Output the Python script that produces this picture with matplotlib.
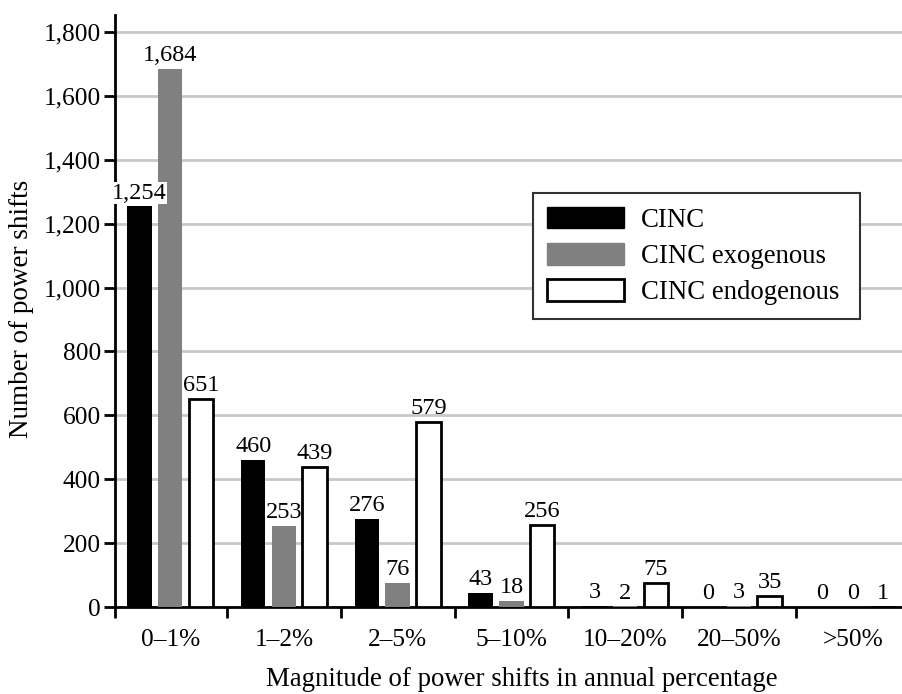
import matplotlib
matplotlib.use("Agg")
import matplotlib.pyplot as plt
from matplotlib.ticker import FuncFormatter, FixedLocator
from matplotlib.patches import Patch

categories = ["0\u20131%", "1\u20132%", "2\u20135%", "5\u201310%", "10\u201320%", "20\u201350%", ">50%"]
cinc = [1254, 460, 276, 43, 3, 0, 0]
cinc_exo = [1684, 253, 76, 18, 2, 3, 0]
cinc_endo = [651, 439, 579, 256, 75, 35, 1]
series_names = ["CINC", "CINC exogenous", "CINC endogenous"]

plt.rcParams['font.family'] = ['Liberation Serif', 'DejaVu Serif']

W, H = 902, 694
fig = plt.figure(figsize=(W / 100, H / 100), dpi=100)
left_px, right_px, top_px, bot_px = 115, 905, 15, 607
ax = fig.add_axes([left_px / W, 1 - bot_px / H, (right_px - left_px) / W, (bot_px - top_px) / H])

x = list(range(len(categories)))
step = 0.27
width = 0.215
styles = [
    dict(color="black", edgecolor="black", linewidth=0),
    dict(color="#808080", edgecolor="#808080", linewidth=0),
    dict(facecolor="white", edgecolor="black", linewidth=2),
]
all_series = [cinc, cinc_exo, cinc_endo]
for i, (vals, st) in enumerate(zip(all_series, styles)):
    pos = [xi + (i - 1) * step for xi in x]
    ax.bar(pos, vals, width=width, zorder=3, **st)
    for p, v in zip(pos, vals):
        txt = ax.annotate(f"{v:,}", (p, v), xytext=(0, 2), textcoords="offset points",
                          ha="center", va="bottom", fontsize=17.5, zorder=5)
        if v == 1254:
            txt.set_bbox(dict(facecolor="white", edgecolor="none", pad=0.3))

ax.set_ylim(0, 1853)
ax.set_xlim(-0.485, 6.46)
ax.yaxis.set_major_locator(FixedLocator(range(0, 1801, 200)))
ax.yaxis.set_major_formatter(FuncFormatter(lambda v, p: f"{int(v):,}"))
ax.set_xticks([xi + 0.5 for xi in x[:-1]] + [-0.485])
ax.set_xticklabels([])
ax.set_xticks(x, minor=True)
ax.set_xticklabels(categories, minor=True)
ax.tick_params(axis="x", which="minor", length=0, pad=16, labelsize=18.3)
ax.tick_params(axis="x", which="major", length=8, width=2, direction="out")
ax.tick_params(axis="y", length=8, width=2, direction="out", labelsize=18.3, pad=2)

ax.grid(axis="y", color="#c8c8c8", linewidth=2, zorder=0)
ax.set_axisbelow(True)
for s in ["top", "right"]:
    ax.spines[s].set_visible(False)
ax.spines["left"].set_linewidth(2)
ax.spines["bottom"].set_linewidth(2)

fig.text(22 / W, 1 - 309 / H, "Number of power shifts", rotation=90,
         ha="center", va="center", fontsize=19.5)
fig.text(522 / W, 1 - 680 / H, "Magnitude of power shifts in annual percentage",
         ha="center", va="center", fontsize=19.3)

handles = [Patch(facecolor="black", edgecolor="black"),
           Patch(facecolor="#808080", edgecolor="#808080"),
           Patch(facecolor="white", edgecolor="black", linewidth=2)]
leg = ax.legend(handles, series_names, loc="upper left", mode="expand",
                bbox_to_anchor=(533 / W, 1 - 320 / H, 327 / W, 127 / H),
                bbox_transform=fig.transFigure,
                fontsize=19.3, handlelength=2.87, handleheight=0.86, handletextpad=0.63,
                labelspacing=0.38, borderpad=0.52, borderaxespad=0, fancybox=False,
                framealpha=1, edgecolor="#333333")
leg.get_frame().set_linewidth(1.5)
leg.set_zorder(6)

fig.savefig("out.png", dpi=100)
